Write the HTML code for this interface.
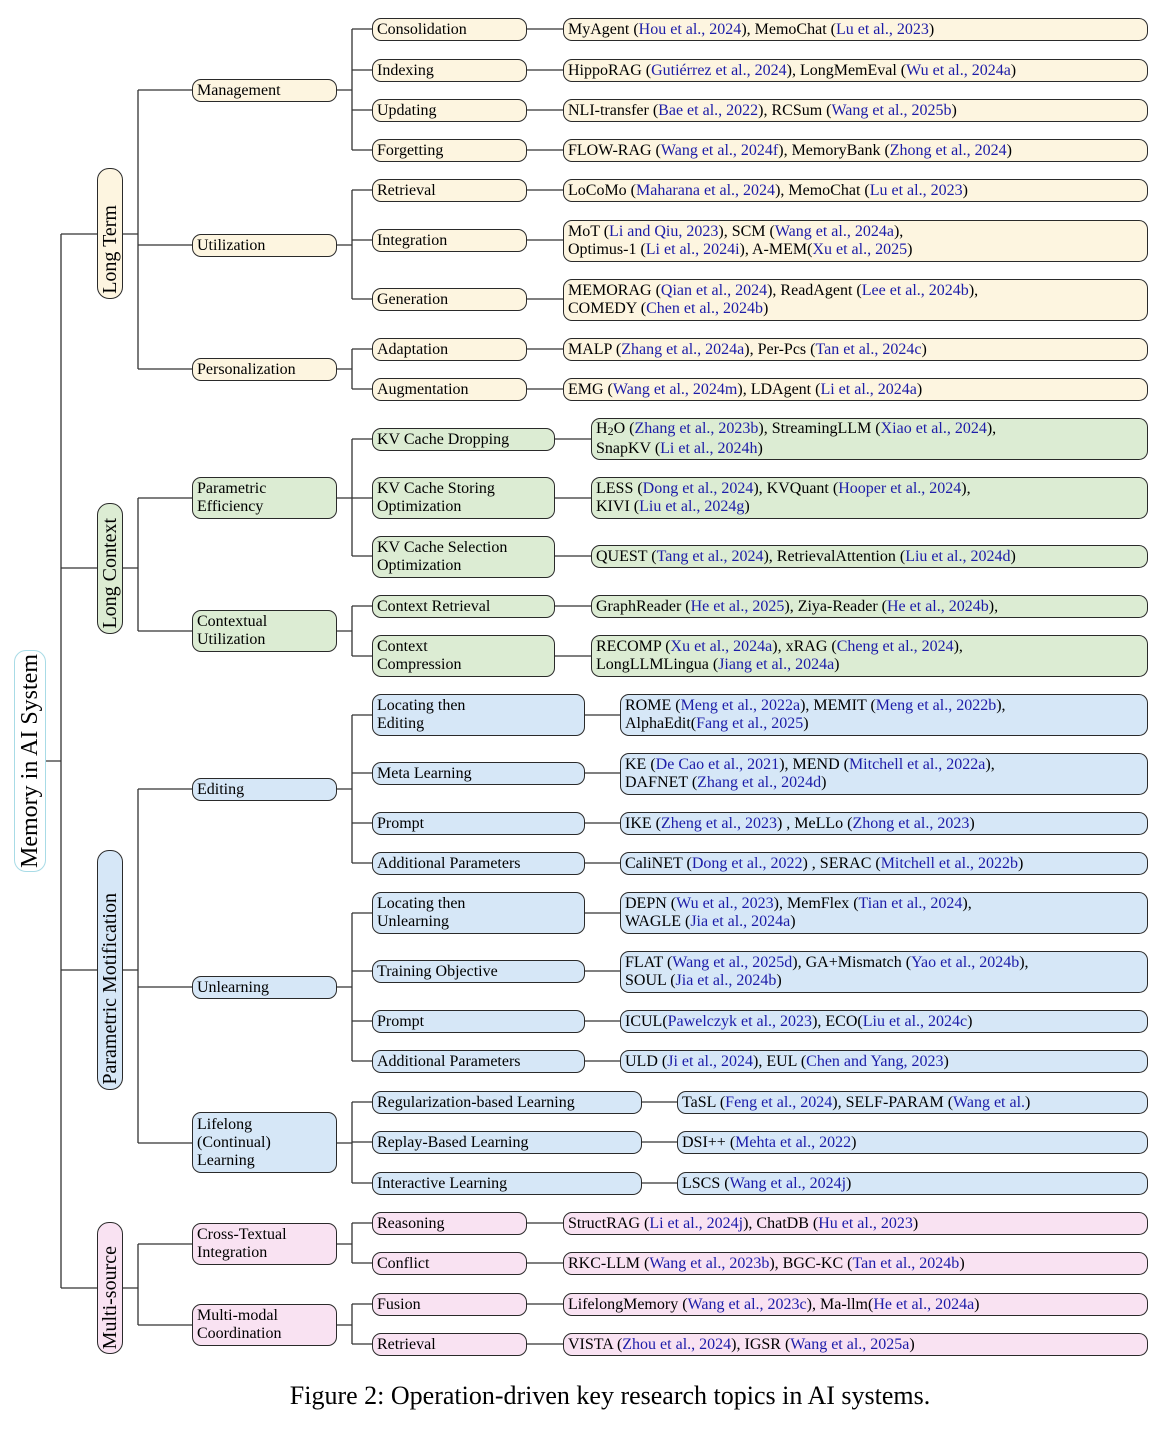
<!DOCTYPE html>
<html><head><meta charset="utf-8"><style>
body{margin:0;background:#fff;width:1170px;height:1432px;position:relative;overflow:hidden;font-family:"Liberation Serif",serif;}
.b{position:absolute;border:1px solid #2a2a2a;border-radius:9px;box-sizing:border-box;padding-left:4px;font-size:16px;line-height:18px;display:flex;align-items:center;color:#000;white-space:nowrap;}
.y{background:#fdf5e0}.g{background:#dcecd3}.u{background:#d6e7f7}.p{background:#f9e2f2}
.c{color:#1c1ca8}
.v{position:absolute;border:1px solid #2a2a2a;border-radius:12px;box-sizing:border-box;}
.v span{position:absolute;left:50%;bottom:4px;writing-mode:vertical-rl;transform:translateX(-50%) rotate(180deg);white-space:nowrap;font-size:20px;line-height:24px;}
.v span.r{bottom:auto;top:50%;transform:translate(-50%,-50%) rotate(180deg);font-size:24px;line-height:28px}
svg{position:absolute;left:0;top:0}
.cap{position:absolute;top:1381px;left:0;width:1220px;text-align:center;font-size:26px;}
</style></head><body>
<svg width="1170" height="1432"><g stroke="#333" stroke-width="1.3" fill="none">
<path d="M46 761H61M61 234V1288M61 234H97M61 568H97M61 970H97M61 1288H97"/>
<path d="M123 234H138M138 90V369M138 90H192M138 245H192M138 369H192"/>
<path d="M337 90H352M352 29V150M352 29H372M352 70H372M352 110H372M352 150H372M527 29H563M527 70H563M527 110H563M527 150H563"/>
<path d="M337 245H352M352 190V299M352 190H372M352 240H372M352 299H372M527 190H563M527 240H563M527 299H563"/>
<path d="M337 369H352M352 349V389M352 349H372M352 389H372M527 349H563M527 389H563"/>
<path d="M123 568H138M138 498V631M138 498H192M138 631H192"/>
<path d="M337 498H352M352 439V556M352 439H372M352 498H372M352 556H372M555 439H591M555 498H591M555 556H591"/>
<path d="M337 631H352M352 606V656M352 606H372M352 656H372M555 606H591M555 656H591"/>
<path d="M123 970H138M138 789V1143M138 789H192M138 987H192M138 1143H192"/>
<path d="M337 789H352M352 715V863M352 715H372M352 773H372M352 823H372M352 863H372M585 715H620M585 773H620M585 823H620M585 863H620"/>
<path d="M337 987H352M352 913V1061M352 913H372M352 971H372M352 1021H372M352 1061H372M585 913H620M585 971H620M585 1021H620M585 1061H620"/>
<path d="M337 1143H352M352 1102V1183M352 1102H372M352 1142H372M352 1183H372M642 1102H677M642 1142H677M642 1183H677"/>
<path d="M123 1288H138M138 1244V1325M138 1244H192M138 1325H192"/>
<path d="M337 1244H352M352 1223V1263M352 1223H372M352 1263H372M527 1223H563M527 1263H563"/>
<path d="M337 1325H352M352 1304V1344M352 1304H372M352 1344H372M527 1304H563M527 1344H563"/>
</g></svg>

<div class="v" style="left:14px;top:650px;width:32px;height:222px;border-color:#a8dbe6;background:#fff"><span class="r">Memory in AI System</span></div>
<div class="v y" style="left:97px;top:168px;width:26px;height:131px"><span>Long Term</span></div>
<div class="v g" style="left:97px;top:503px;width:26px;height:131px"><span>Long Context</span></div>
<div class="v u" style="left:97px;top:850px;width:26px;height:240px"><span>Parametric Motification</span></div>
<div class="v p" style="left:97px;top:1222px;width:26px;height:132px"><span>Multi-source</span></div>

<!-- Long term -->
<div class="b y" style="left:192px;top:79px;width:145px;height:23px">Management</div>
<div class="b y" style="left:192px;top:234px;width:145px;height:23px">Utilization</div>
<div class="b y" style="left:192px;top:358px;width:145px;height:23px">Personalization</div>
<div class="b y" style="left:372px;top:18px;width:155px;height:23px">Consolidation</div>
<div class="b y" style="left:372px;top:59px;width:155px;height:23px">Indexing</div>
<div class="b y" style="left:372px;top:99px;width:155px;height:23px">Updating</div>
<div class="b y" style="left:372px;top:139px;width:155px;height:23px">Forgetting</div>
<div class="b y" style="left:372px;top:179px;width:155px;height:23px">Retrieval</div>
<div class="b y" style="left:372px;top:229px;width:155px;height:23px">Integration</div>
<div class="b y" style="left:372px;top:288px;width:155px;height:23px">Generation</div>
<div class="b y" style="left:372px;top:338px;width:155px;height:23px">Adaptation</div>
<div class="b y" style="left:372px;top:378px;width:155px;height:23px">Augmentation</div>
<div class="b y" style="left:563px;top:18px;width:585px;height:23px">MyAgent (<span class="c">Hou et al., 2024</span>), MemoChat (<span class="c">Lu et al., 2023</span>)</div>
<div class="b y" style="left:563px;top:59px;width:585px;height:23px">HippoRAG (<span class="c">Gutiérrez et al., 2024</span>), LongMemEval (<span class="c">Wu et al., 2024a</span>)</div>
<div class="b y" style="left:563px;top:99px;width:585px;height:23px">NLI-transfer (<span class="c">Bae et al., 2022</span>), RCSum (<span class="c">Wang et al., 2025b</span>)</div>
<div class="b y" style="left:563px;top:139px;width:585px;height:23px">FLOW-RAG (<span class="c">Wang et al., 2024f</span>), MemoryBank (<span class="c">Zhong et al., 2024</span>)</div>
<div class="b y" style="left:563px;top:179px;width:585px;height:23px">LoCoMo (<span class="c">Maharana et al., 2024</span>), MemoChat (<span class="c">Lu et al., 2023</span>)</div>
<div class="b y" style="left:563px;top:220px;width:585px;height:42px"><div>MoT (<span class="c">Li and Qiu, 2023</span>), SCM (<span class="c">Wang et al., 2024a</span>),<br>Optimus-1 (<span class="c">Li et al., 2024i</span>), A-MEM(<span class="c">Xu et al., 2025</span>)</div></div>
<div class="b y" style="left:563px;top:279px;width:585px;height:42px"><div>MEMORAG (<span class="c">Qian et al., 2024</span>), ReadAgent (<span class="c">Lee et al., 2024b</span>),<br>COMEDY (<span class="c">Chen et al., 2024b</span>)</div></div>
<div class="b y" style="left:563px;top:338px;width:585px;height:23px">MALP (<span class="c">Zhang et al., 2024a</span>), Per-Pcs (<span class="c">Tan et al., 2024c</span>)</div>
<div class="b y" style="left:563px;top:378px;width:585px;height:23px">EMG (<span class="c">Wang et al., 2024m</span>), LDAgent (<span class="c">Li et al., 2024a</span>)</div>

<!-- Long context -->
<div class="b g" style="left:192px;top:477px;width:145px;height:42px"><div>Parametric<br>Efficiency</div></div>
<div class="b g" style="left:192px;top:610px;width:145px;height:42px"><div>Contextual<br>Utilization</div></div>
<div class="b g" style="left:372px;top:428px;width:183px;height:23px">KV Cache Dropping</div>
<div class="b g" style="left:372px;top:477px;width:183px;height:42px"><div>KV Cache Storing<br>Optimization</div></div>
<div class="b g" style="left:372px;top:536px;width:183px;height:42px"><div>KV Cache Selection<br>Optimization</div></div>
<div class="b g" style="left:372px;top:595px;width:183px;height:23px">Context Retrieval</div>
<div class="b g" style="left:372px;top:635px;width:183px;height:42px"><div>Context<br>Compression</div></div>
<div class="b g" style="left:591px;top:418px;width:557px;height:42px"><div>H<sub style="font-size:12px;vertical-align:-2px">2</sub>O (<span class="c">Zhang et al., 2023b</span>), StreamingLLM (<span class="c">Xiao et al., 2024</span>),<br>SnapKV (<span class="c">Li et al., 2024h</span>)</div></div>
<div class="b g" style="left:591px;top:477px;width:557px;height:42px"><div>LESS (<span class="c">Dong et al., 2024</span>), KVQuant (<span class="c">Hooper et al., 2024</span>),<br>KIVI (<span class="c">Liu et al., 2024g</span>)</div></div>
<div class="b g" style="left:591px;top:545px;width:557px;height:23px">QUEST (<span class="c">Tang et al., 2024</span>), RetrievalAttention (<span class="c">Liu et al., 2024d</span>)</div>
<div class="b g" style="left:591px;top:595px;width:557px;height:23px">GraphReader (<span class="c">He et al., 2025</span>), Ziya-Reader (<span class="c">He et al., 2024b</span>),</div>
<div class="b g" style="left:591px;top:635px;width:557px;height:42px"><div>RECOMP (<span class="c">Xu et al., 2024a</span>), xRAG (<span class="c">Cheng et al., 2024</span>),<br>LongLLMLingua (<span class="c">Jiang et al., 2024a</span>)</div></div>

<!-- Parametric -->
<div class="b u" style="left:192px;top:778px;width:145px;height:23px">Editing</div>
<div class="b u" style="left:192px;top:976px;width:145px;height:23px">Unlearning</div>
<div class="b u" style="left:192px;top:1112px;width:145px;height:61px"><div>Lifelong<br>(Continual)<br>Learning</div></div>
<div class="b u" style="left:372px;top:694px;width:213px;height:42px"><div>Locating then<br>Editing</div></div>
<div class="b u" style="left:372px;top:762px;width:213px;height:23px">Meta Learning</div>
<div class="b u" style="left:372px;top:812px;width:213px;height:23px">Prompt</div>
<div class="b u" style="left:372px;top:852px;width:213px;height:23px">Additional Parameters</div>
<div class="b u" style="left:372px;top:892px;width:213px;height:42px"><div>Locating then<br>Unlearning</div></div>
<div class="b u" style="left:372px;top:960px;width:213px;height:23px">Training Objective</div>
<div class="b u" style="left:372px;top:1010px;width:213px;height:23px">Prompt</div>
<div class="b u" style="left:372px;top:1050px;width:213px;height:23px">Additional Parameters</div>
<div class="b u" style="left:372px;top:1091px;width:270px;height:23px">Regularization-based Learning</div>
<div class="b u" style="left:372px;top:1131px;width:270px;height:23px">Replay-Based Learning</div>
<div class="b u" style="left:372px;top:1172px;width:270px;height:23px">Interactive Learning</div>
<div class="b u" style="left:620px;top:694px;width:528px;height:42px"><div>ROME (<span class="c">Meng et al., 2022a</span>), MEMIT (<span class="c">Meng et al., 2022b</span>),<br>AlphaEdit(<span class="c">Fang et al., 2025</span>)</div></div>
<div class="b u" style="left:620px;top:753px;width:528px;height:42px"><div>KE (<span class="c">De Cao et al., 2021</span>), MEND (<span class="c">Mitchell et al., 2022a</span>),<br>DAFNET (<span class="c">Zhang et al., 2024d</span>)</div></div>
<div class="b u" style="left:620px;top:812px;width:528px;height:23px">IKE (<span class="c">Zheng et al., 2023</span>) , MeLLo (<span class="c">Zhong et al., 2023</span>)</div>
<div class="b u" style="left:620px;top:852px;width:528px;height:23px">CaliNET (<span class="c">Dong et al., 2022</span>) , SERAC (<span class="c">Mitchell et al., 2022b</span>)</div>
<div class="b u" style="left:620px;top:892px;width:528px;height:42px"><div>DEPN (<span class="c">Wu et al., 2023</span>), MemFlex (<span class="c">Tian et al., 2024</span>),<br>WAGLE (<span class="c">Jia et al., 2024a</span>)</div></div>
<div class="b u" style="left:620px;top:951px;width:528px;height:42px"><div>FLAT (<span class="c">Wang et al., 2025d</span>), GA+Mismatch (<span class="c">Yao et al., 2024b</span>),<br>SOUL (<span class="c">Jia et al., 2024b</span>)</div></div>
<div class="b u" style="left:620px;top:1010px;width:528px;height:23px">ICUL(<span class="c">Pawelczyk et al., 2023</span>), ECO(<span class="c">Liu et al., 2024c</span>)</div>
<div class="b u" style="left:620px;top:1050px;width:528px;height:23px">ULD (<span class="c">Ji et al., 2024</span>), EUL (<span class="c">Chen and Yang, 2023</span>)</div>
<div class="b u" style="left:677px;top:1091px;width:471px;height:23px">TaSL (<span class="c">Feng et al., 2024</span>), SELF-PARAM (<span class="c">Wang et al.</span>)</div>
<div class="b u" style="left:677px;top:1131px;width:471px;height:23px">DSI++ (<span class="c">Mehta et al., 2022</span>)</div>
<div class="b u" style="left:677px;top:1172px;width:471px;height:23px">LSCS (<span class="c">Wang et al., 2024j</span>)</div>

<!-- Multi-source -->
<div class="b p" style="left:192px;top:1223px;width:145px;height:42px"><div>Cross-Textual<br>Integration</div></div>
<div class="b p" style="left:192px;top:1304px;width:145px;height:42px"><div>Multi-modal<br>Coordination</div></div>
<div class="b p" style="left:372px;top:1212px;width:155px;height:23px">Reasoning</div>
<div class="b p" style="left:372px;top:1252px;width:155px;height:23px">Conflict</div>
<div class="b p" style="left:372px;top:1293px;width:155px;height:23px">Fusion</div>
<div class="b p" style="left:372px;top:1333px;width:155px;height:23px">Retrieval</div>
<div class="b p" style="left:563px;top:1212px;width:585px;height:23px">StructRAG (<span class="c">Li et al., 2024j</span>), ChatDB (<span class="c">Hu et al., 2023</span>)</div>
<div class="b p" style="left:563px;top:1252px;width:585px;height:23px">RKC-LLM (<span class="c">Wang et al., 2023b</span>), BGC-KC (<span class="c">Tan et al., 2024b</span>)</div>
<div class="b p" style="left:563px;top:1293px;width:585px;height:23px">LifelongMemory (<span class="c">Wang et al., 2023c</span>), Ma-llm(<span class="c">He et al., 2024a</span>)</div>
<div class="b p" style="left:563px;top:1333px;width:585px;height:23px">VISTA (<span class="c">Zhou et al., 2024</span>), IGSR (<span class="c">Wang et al., 2025a</span>)</div>

<div class="cap">Figure 2: Operation-driven key research topics in AI systems.</div>
</body></html>
